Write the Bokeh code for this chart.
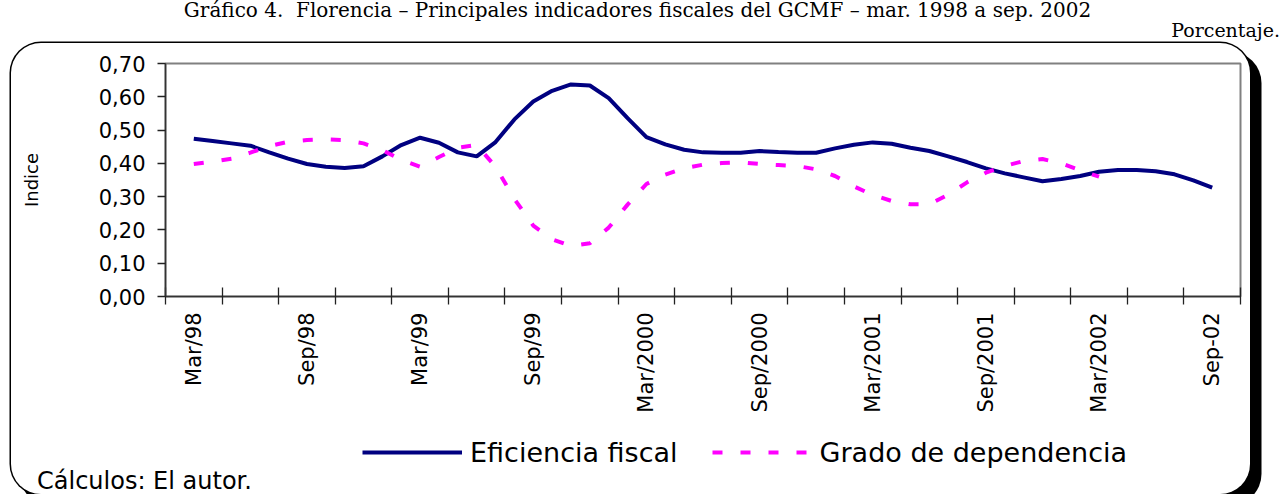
import math
from bokeh.plotting import figure
from bokeh.layouts import column
from bokeh.models import (Range1d, FixedTicker, Legend, LegendItem, Div,
                          CustomJSTickFormatter)
from bokeh.embed import file_html
from bokeh.resources import INLINE

# ---------------- data (monthly, Mar/98 = month 0 ... Sep/02 = month 54) -------------
months = list(range(55))
eficiencia_fiscal = [
    0.474, 0.467, 0.460, 0.453, 0.433, 0.414, 0.398, 0.390, 0.386, 0.391,
    0.421, 0.455, 0.477, 0.462, 0.433, 0.421, 0.464, 0.532, 0.586, 0.618,
    0.637, 0.634, 0.596, 0.536, 0.479, 0.457, 0.441, 0.433, 0.432, 0.432,
    0.437, 0.434, 0.432, 0.432, 0.445, 0.456, 0.463, 0.459, 0.447, 0.437,
    0.421, 0.404, 0.385, 0.370, 0.358, 0.346, 0.353, 0.362, 0.375, 0.380,
    0.380, 0.376, 0.367, 0.349, 0.327,
]
months_grado = list(range(49))
grado_dependencia = [
    0.398, 0.405, 0.414, 0.432, 0.452, 0.465, 0.470, 0.472, 0.470, 0.460,
    0.440, 0.410, 0.390, 0.419, 0.447, 0.455, 0.390, 0.293, 0.213, 0.172,
    0.152, 0.160, 0.207, 0.276, 0.338, 0.366, 0.385, 0.396, 0.401, 0.403,
    0.398, 0.395, 0.392, 0.382, 0.362, 0.331, 0.305, 0.287, 0.277, 0.277,
    0.306, 0.343, 0.372, 0.392, 0.407, 0.413, 0.400, 0.379, 0.360,
]
label_months = [0, 6, 12, 18, 24, 30, 36, 42, 48, 54]
tick_labels = ["Mar/98", "Sep/98", "Mar/99", "Sep/99", "Mar/2000", "Sep/2000",
               "Mar/2001", "Sep/2001", "Mar/2002", "Sep-02"]
quarter_bounds = [-1.5 + 3 * k for k in range(20)]
y_ticks = [0.0, 0.1, 0.2, 0.3, 0.4, 0.5, 0.6, 0.7]

series_names = ["Eficiencia fiscal", "Grado de dependencia"]
series_colors = ["#000080", "#FF00FF"]
title_text = "Gráfico 4.&nbsp; Florencia – Principales indicadores fiscales del GCMF – mar. 1998 a sep. 2002"
unit_text = "Porcentaje."
source_text = "Cálculos: El autor."

# ---------------- header (title + unit) ----------------
header = Div(width=1283, height=43, margin=(0, 0, 0, 0), text=(
    '<div style="position:relative;width:1283px;height:43px;font-family:\'DejaVu Serif\';'
    'color:black;">'
    '<div style="position:absolute;left:0;top:0px;width:1275px;text-align:center;'
    f'font-size:20px;line-height:20px;white-space:nowrap;">{title_text}</div>'
    '<div style="position:absolute;right:3px;top:21px;font-size:19px;line-height:19px;'
    f'white-space:nowrap;">{unit_text}</div></div>'))

# ---------------- main figure (inside the rounded, shadowed box) ----------------
p = figure(width=1239, height=451, output_backend="svg", toolbar_location=None,
           x_range=Range1d(-1.5, 55.5), y_range=Range1d(0, 0.7),
           min_border_left=154, min_border_right=10, min_border_top=20,
           min_border_bottom=198, margin=(0, 0, 0, 11),
           styles={"border-radius": "30px", "overflow": "hidden",
                   "background-color": "white",
                   "box-shadow": "0 0 0 1.5px black, 10px 10px 0 1.5px black"})
p.title.visible = False
p.background_fill_color = "white"
p.border_fill_color = None
p.outline_line_color = "#808080"
p.outline_line_width = 2
p.xgrid.visible = False
p.ygrid.visible = False

line_styles = [dict(line_color=series_colors[0], line_width=4),
               dict(line_color=series_colors[1], line_width=4, line_dash="10 18")]
p.line(months, eficiencia_fiscal, **line_styles[0])
p.line(months_grado, grado_dependencia, **line_styles[1])

# x axis
xa = p.xaxis[0]
xa.ticker = FixedTicker(ticks=label_months, minor_ticks=quarter_bounds)
xa.major_label_overrides = {m: t for m, t in zip(label_months, tick_labels)}
xa.major_tick_in = 0
xa.major_tick_out = 0
xa.minor_tick_in = 9
xa.minor_tick_out = 8
xa.minor_tick_line_color = "#222222"
xa.minor_tick_line_width = 1.3
xa.axis_line_color = "#333333"
xa.axis_line_width = 1.5
xa.major_label_orientation = math.pi / 2
xa.major_label_standoff = 8
xa.major_label_text_font = "DejaVu Sans"
xa.major_label_text_font_size = "21px"
xa.major_label_text_color = "black"

# y axis
ya = p.yaxis[0]
ya.ticker = FixedTicker(ticks=y_ticks)
ya.formatter = CustomJSTickFormatter(code="return tick.toFixed(2).replace('.', ',');")
ya.major_tick_in = 0
ya.major_tick_out = 8
ya.major_tick_line_color = "#222222"
ya.major_tick_line_width = 1.3
ya.minor_tick_line_color = None
ya.axis_line_color = "#333333"
ya.axis_line_width = 1.5
ya.major_label_standoff = 12
ya.major_label_text_font = "DejaVu Sans"
ya.major_label_text_font_size = "21px"
ya.major_label_text_color = "black"
ya.axis_label = "Indice"
ya.axis_label_text_font = "DejaVu Sans"
ya.axis_label_text_font_size = "18px"
ya.axis_label_text_font_style = "normal"
ya.axis_label_text_color = "black"
ya.axis_label_standoff = 54

# ---------------- legend (own transparent figure laid over the box) ----------------
# (the column aligns this figure's inner border with the main figure's 154 px border)
lf = figure(width=960, height=40, output_backend="svg", toolbar_location=None,
            x_axis_location=None, y_axis_location=None, min_border=0,
            margin=(-62, 0, 0, 208))
lf.title.visible = False
lf.outline_line_color = None
lf.background_fill_color = None
lf.border_fill_color = None
lf.grid.visible = False
lr1 = lf.line(months, eficiencia_fiscal, visible=False, **line_styles[0])
lr2 = lf.line(months_grado, grado_dependencia, visible=False, **line_styles[1])
legend = Legend(items=[LegendItem(label=series_names[0], renderers=[lr1]),
                       LegendItem(label=series_names[1], renderers=[lr2])],
                location="top_left", orientation="horizontal",
                glyph_width=100, glyph_height=40, label_standoff=8, spacing=34,
                padding=0, margin=0, border_line_color=None, background_fill_alpha=0,
                inactive_fill_alpha=0,
                label_text_font="DejaVu Sans", label_text_font_size="27px",
                label_text_color="black")
lf.add_layout(legend, "center")

# ---------------- source note ----------------
note = Div(width=420, height=24, margin=(-2, 0, 0, 0), text=(
    '<div style="position:relative;top:-1px;padding-left:37px;font-family:\'DejaVu Sans\';'
    f'font-size:24px;line-height:24px;color:black;white-space:nowrap;">{source_text}</div>'))

layout = column(header, p, lf, note, spacing=0, margin=(0, 0, 0, 0))
open("out.html", "w").write(file_html(layout, INLINE))
